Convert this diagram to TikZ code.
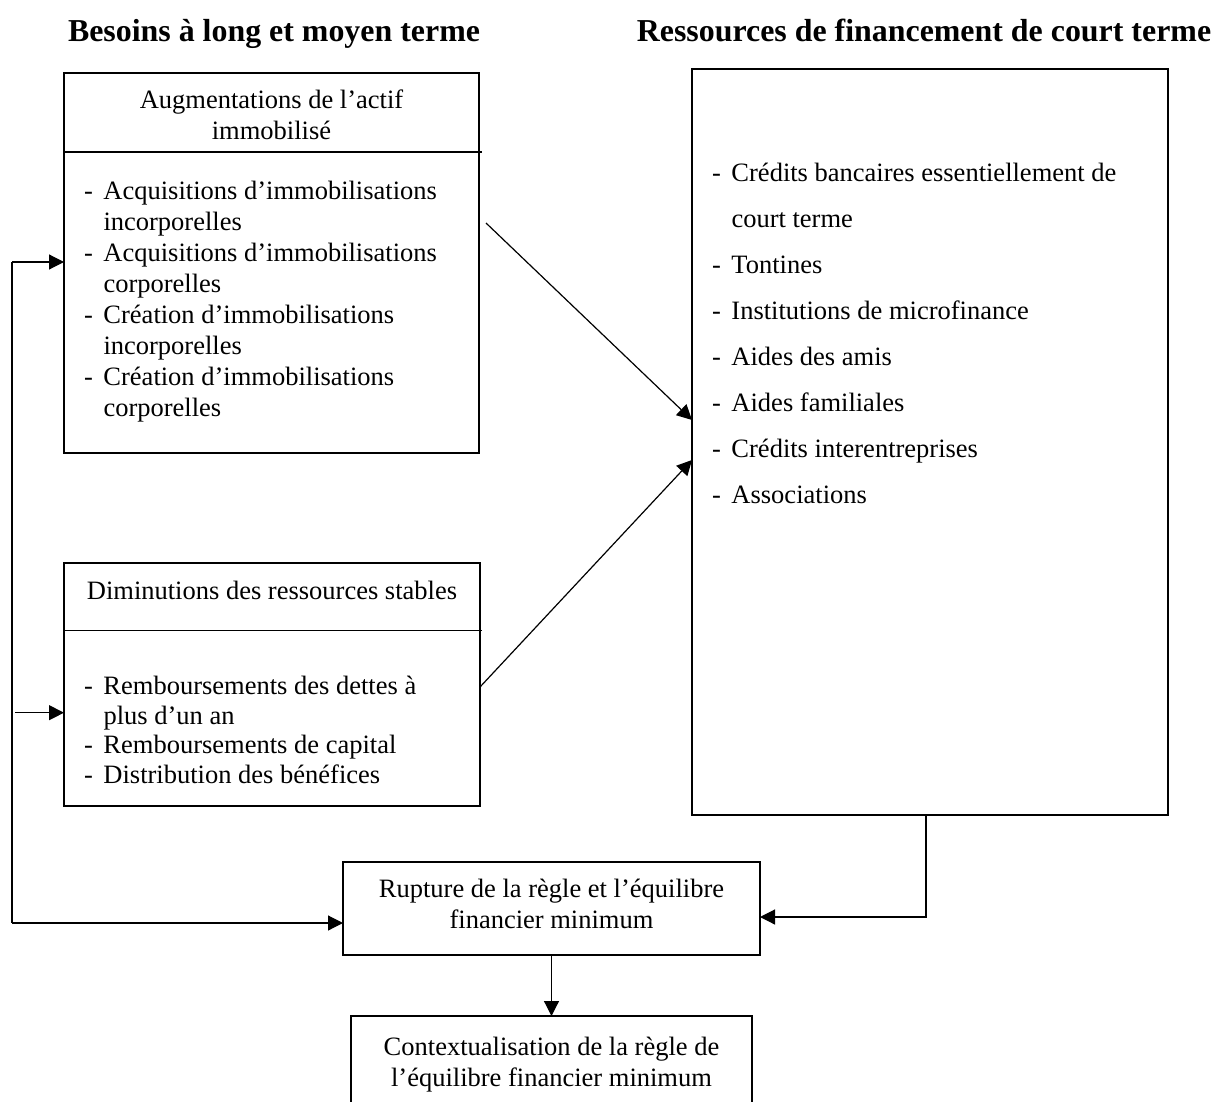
\documentclass[tikz,border=0pt]{standalone}
\usepackage{fontspec}
\setmainfont{Liberation Serif}
\usetikzlibrary{arrows.meta}
\newcommand\mybody{\fontsize{26.5}{31}\selectfont}
\newcommand\mybodyD{\fontsize{26.5}{29.5}\selectfont}
\newcommand\mybodyC{\fontsize{26.5}{30.5}\selectfont}
\newcommand\mybodywide{\fontsize{26.5}{46}\selectfont}
\newcommand\mytitle{\fontsize{31.9}{38}\selectfont\bfseries}
\newcommand\dsh{\makebox[19.5pt][l]{-}}
\newcommand\ind{\hspace*{19.5pt}}
\begin{document}
\begin{tikzpicture}[x=1pt,y=-1pt,
  box/.style={draw, line width=1.2pt, inner sep=0pt, outer sep=0pt},
  lbl/.style={inner sep=0pt, outer sep=0pt},
  rule/.style={line width=1.2pt},
  arr/.style={line width=1.2pt, -{Triangle[length=15pt,width=15pt]}}]
\useasboundingbox (0,0) rectangle (1213,1102);

% titles
\node[lbl, anchor=base, font=\mytitle] (t1) at (274,42) {Besoins à long et moyen terme};
\node[lbl, anchor=base, font=\mytitle] (t2) at (924,42) {Ressources de financement de court terme};

% box A
\node[box, minimum width=415pt, minimum height=380pt] (A) at (271.5,263) {};
\node[lbl, anchor=base, font=\mybody] (Ah) at (271.5,108.5)
  {\begin{tabular}[t]{@{}c@{}}Augmentations de l’actif\\ immobilisé\end{tabular}};
\draw[rule] (A.west |- 0,152) -- (482,152);
\node[lbl, anchor=base west, font=\mybody] (Al) at (84,200)
  {\begin{tabular}[t]{@{}l@{}}
   \dsh Acquisitions d’immobilisations\\
   \ind incorporelles\\
   \dsh Acquisitions d’immobilisations\\
   \ind corporelles\\
   \dsh Création d’immobilisations\\
   \ind incorporelles\\
   \dsh Création d’immobilisations\\
   \ind corporelles
   \end{tabular}};

% box D
\node[box, minimum width=416pt, minimum height=243pt] (D) at (272,684.5) {};
\node[lbl, anchor=base, font=\mybody] (Dh) at (272,599) {Diminutions des ressources stables};
\draw[rule] (D.west |- 0,630.5) -- (482,630.5);
\node[lbl, anchor=base west, font=\mybodyD] (Dl) at (84,694.7)
  {\begin{tabular}[t]{@{}l@{}}
   \dsh Remboursements des dettes à\\
   \ind plus d’un an\\
   \dsh Remboursements de capital\\
   \dsh Distribution des bénéfices
   \end{tabular}};

% box R
\node[box, minimum width=476pt, minimum height=746pt] (R) at (930,442) {};
\node[lbl, anchor=base west, font=\mybodywide] (Rl) at (712,181.5)
  {\begin{tabular}[t]{@{}l@{}}
   \dsh Crédits bancaires essentiellement de\\
   \ind court terme\\
   \dsh Tontines\\
   \dsh Institutions de microfinance\\
   \dsh Aides des amis\\
   \dsh Aides familiales\\
   \dsh Crédits interentreprises\\
   \dsh Associations
   \end{tabular}};

% rupture
\node[box, minimum width=417pt, minimum height=93pt] (RU) at (551.5,908.5) {};
\node[lbl, anchor=base, font=\mybody] (RUt) at (551.5,897)
  {\begin{tabular}[t]{@{}c@{}}Rupture de la règle et l’équilibre\\ financier minimum\end{tabular}};

% contextualisation (bottom edge outside the page)
\node[box, minimum width=401pt, minimum height=96pt] (C) at (551.5,1064) {};
\node[lbl, anchor=base, font=\mybodyC] (Ct) at (551.5,1055.5)
  {\begin{tabular}[t]{@{}c@{}}Contextualisation de la règle de\\ l’équilibre financier minimum\end{tabular}};

% connectors
\coordinate (L1) at (12,262);
\coordinate (L2) at (15,712.7);
\coordinate (L3) at (12,923);
\draw[rule] (L1) -- (L3);
\draw[arr] (L1) -- (L1 -| A.west);
\draw[arr] (L2) -- (L2 -| D.west);
\draw[arr] (L3) -- (L3 -| RU.west);

\coordinate (a1) at (486,223);
\coordinate (a1t) at (692,420);
\coordinate (a2) at (480,687);
\coordinate (a2t) at (692,460);
\draw[arr] (a1) -- (a1t -| R.west);
\draw[arr] (a2) -- (a2t -| R.west);

\coordinate (rr) at (926,917);
\draw[arr] (R.south -| rr) -- (rr) -- (rr -| RU.east);
\draw[arr] (RU.south) -- (C.north);
\end{tikzpicture}
\end{document}
